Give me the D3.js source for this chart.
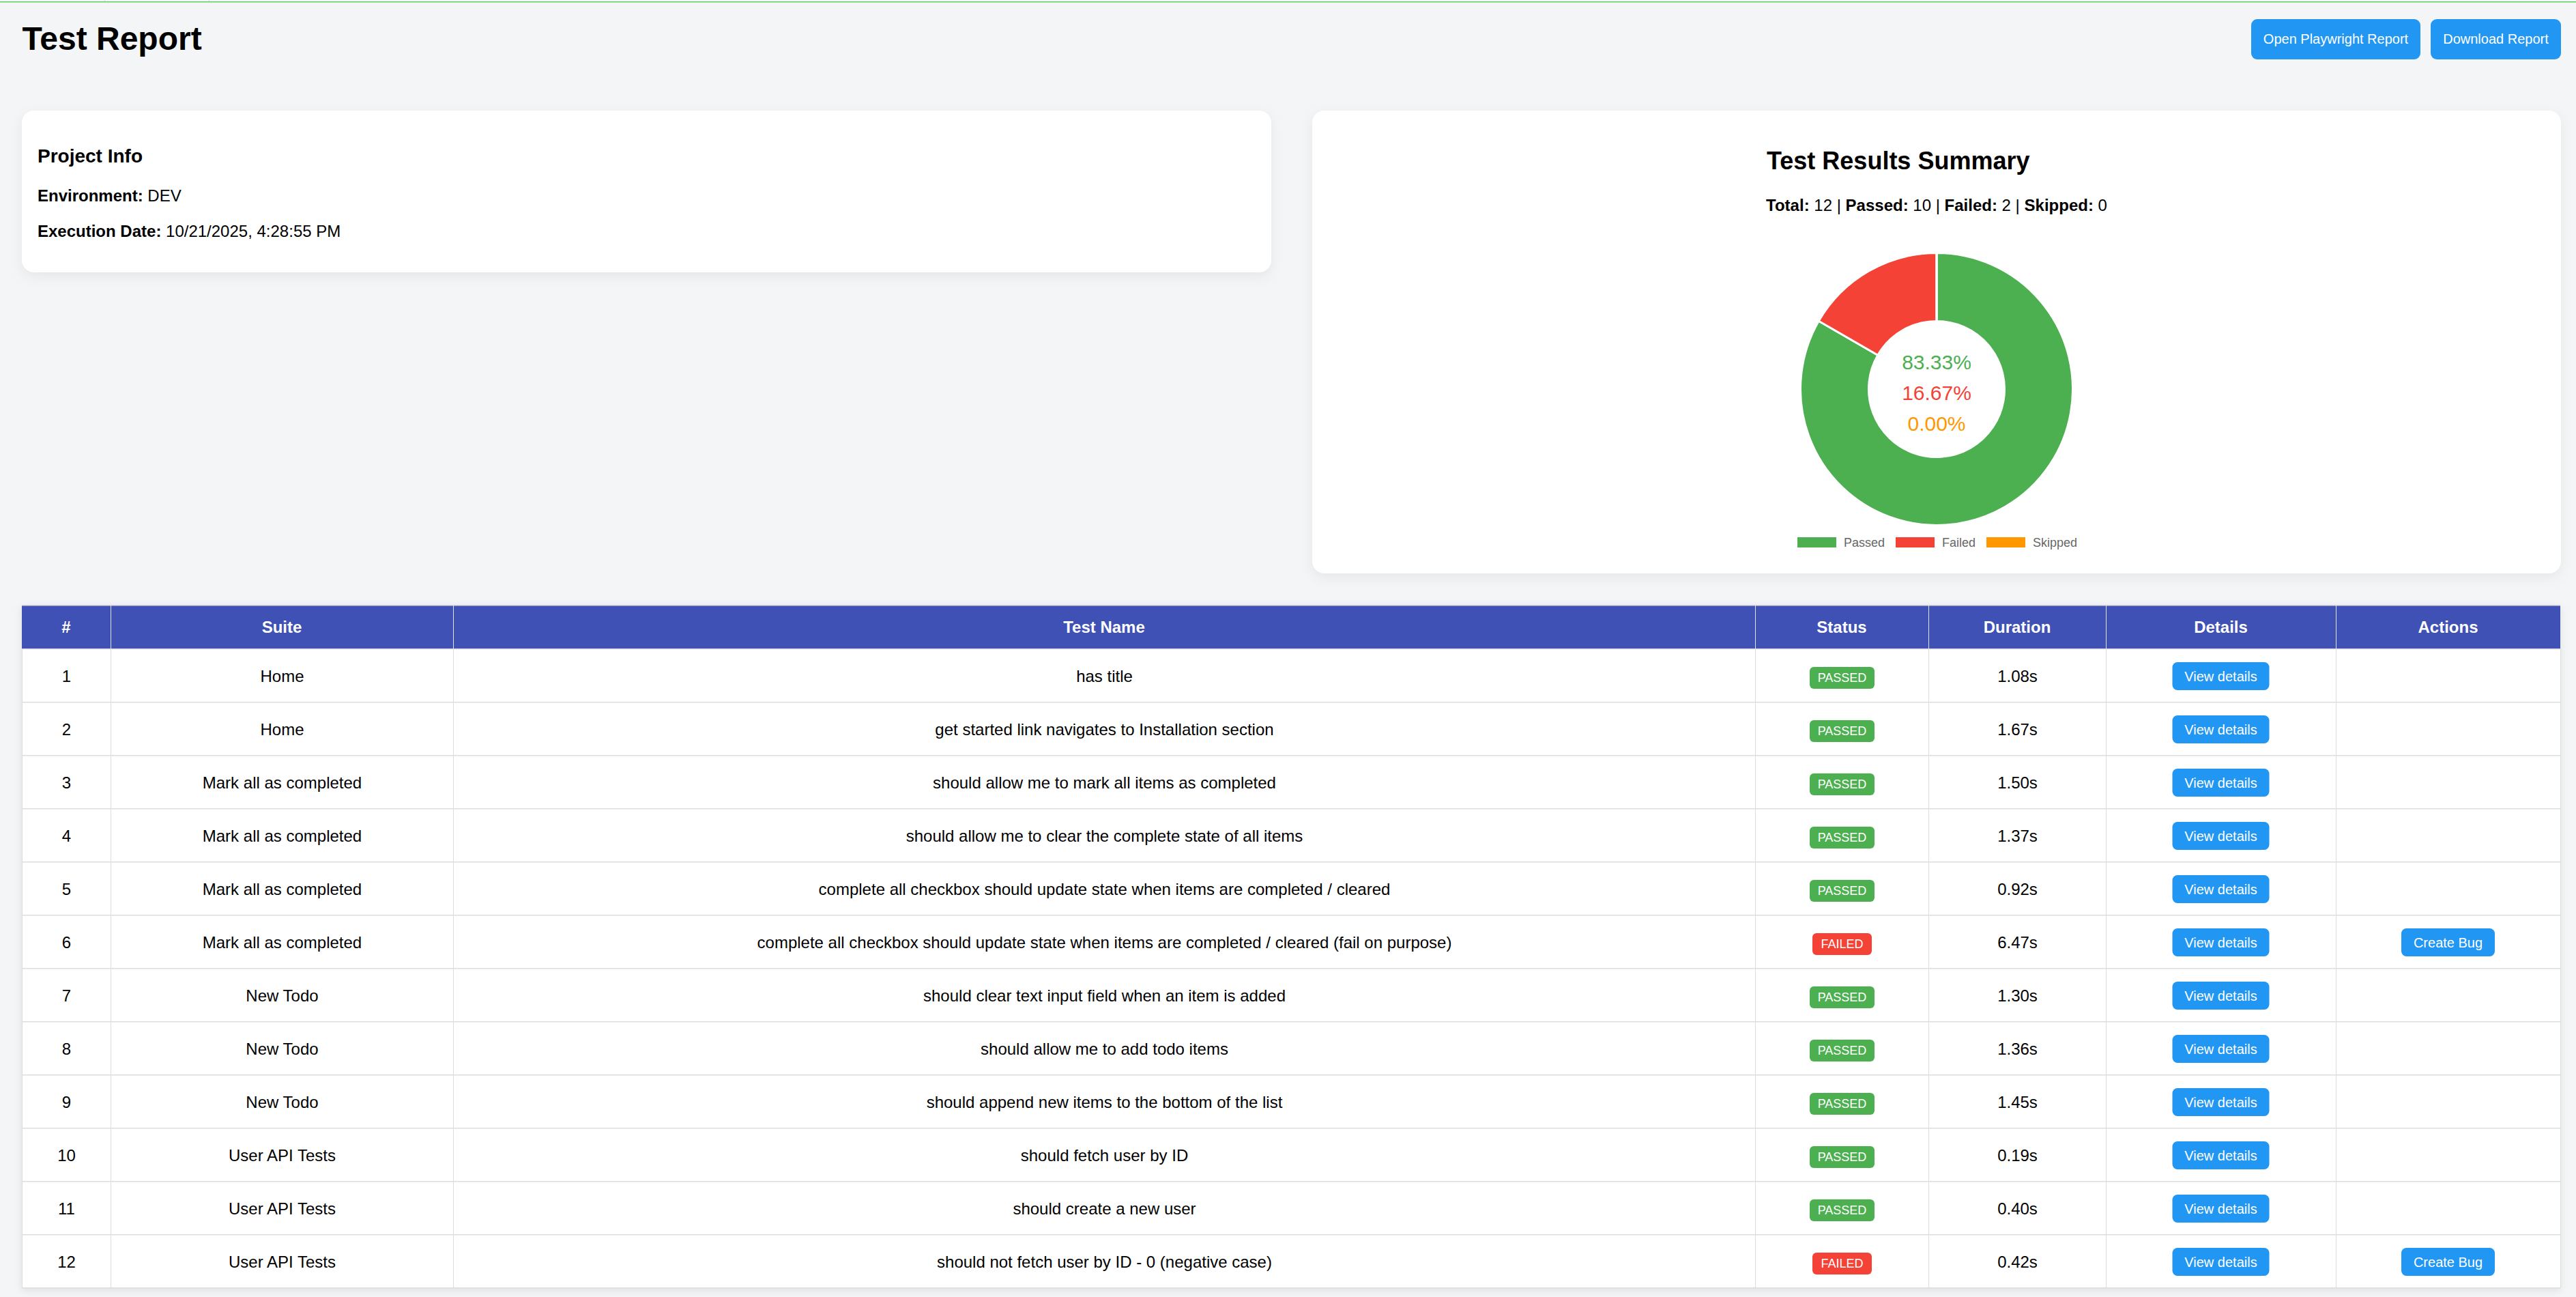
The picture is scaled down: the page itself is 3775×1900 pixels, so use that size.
<!DOCTYPE html>
<html lang="en">
<head>
<meta charset="utf-8">
<title>Test Report</title>
<script src="https://cdn.jsdelivr.net/npm/d3@7/dist/d3.min.js"></script>
<style>
html,body{margin:0;padding:0;background:#f4f5f7;overflow:hidden;}
svg{display:block;font-family:"Liberation Sans",Arial,sans-serif;}
</style>
</head>
<body>
<svg id="page" width="3775" height="1900"></svg>
<script>
const reportTitle = "Test Report";
const headerButtons = ["Open Playwright Report", "Download Report"];
const infoLabels = ["Environment:", "Execution Date:"];
const infoValues = ["DEV", "10/21/2025, 4:28:55 PM"];

const resultLabels = ["Passed", "Failed", "Skipped"];
const resultCounts = [10, 2, 0];
const resultColors = ["#4caf50", "#f44336", "#ff9800"];

const columns = ["#", "Suite", "Test Name", "Status", "Duration", "Details", "Actions"];
const suites = ["Home","Home","Mark all as completed","Mark all as completed","Mark all as completed","Mark all as completed","New Todo","New Todo","New Todo","User API Tests","User API Tests","User API Tests"];
const testNames = [
  "has title",
  "get started link navigates to Installation section",
  "should allow me to mark all items as completed",
  "should allow me to clear the complete state of all items",
  "complete all checkbox should update state when items are completed / cleared",
  "complete all checkbox should update state when items are completed / cleared (fail on purpose)",
  "should clear text input field when an item is added",
  "should allow me to add todo items",
  "should append new items to the bottom of the list",
  "should fetch user by ID",
  "should create a new user",
  "should not fetch user by ID - 0 (negative case)"
];
const statuses = ["PASSED","PASSED","PASSED","PASSED","PASSED","FAILED","PASSED","PASSED","PASSED","PASSED","PASSED","FAILED"];
const durations = [1.08,1.67,1.50,1.37,0.92,6.47,1.30,1.36,1.45,0.19,0.40,0.42];

// layout
const columnEdges = [32,162,664,2572,2826,3086,3423,3752];
const tableTop = 887, headerBottom = 951, tableBottom = 1887;
const svg = d3.select("#page");
const total = d3.sum(resultCounts);

svg.append("rect").attr("x",0).attr("y",2).attr("width",3775).attr("height",1.5).attr("fill","#5fd068");
[153,306].forEach(x=>svg.append("rect").attr("x",x).attr("y",0).attr("width",1).attr("height",2).attr("fill","#c9e8cc"));

function rich(parent,x,y,size,anchor,parts){
  const t=parent.append("text").attr("x",x).attr("y",y).attr("font-size",size).attr("text-anchor",anchor).attr("fill","#000");
  parts.forEach(p=>t.append("tspan").attr("font-weight",p[1]?"bold":"normal").text(p[0]));
  return t;
}
function button(parent,x0,y0,w,h,r,label,size,base,fill){
  parent.append("rect").attr("x",x0).attr("y",y0).attr("width",w).attr("height",h).attr("rx",r).attr("fill",fill);
  parent.append("text").attr("x",x0+w/2).attr("y",base).attr("text-anchor","middle").attr("font-size",size).attr("fill","#fff").text(label);
}

rich(svg,32.5,73,48,"start",[[reportTitle,true]]);
button(svg,3299,28,248,59,9,headerButtons[0],20,64,"#2196f3");
button(svg,3562,28,191,59,9,headerButtons[1],20,64,"#2196f3");

// cards
const shadow="drop-shadow(0px 6px 9px rgba(0,0,0,0.06))";
[[32,162,1831,237],[1923,162,1830,678]].forEach(c=>svg.append("rect").attr("x",c[0]).attr("y",c[1]).attr("width",c[2]).attr("height",c[3]).attr("rx",18).attr("fill","#fff").style("filter",shadow));

rich(svg,55,238,28,"start",[["Project Info",true]]);
infoLabels.forEach((l,i)=>rich(svg,55,[295,347][i],24,"start",[[l+" ",true],[infoValues[i],false]]));

// summary
rich(svg,2589,248,36,"start",[["Test Results Summary",true]]);
const summaryParts=[["Total: ",true],[String(total),false]];
resultLabels.forEach((l,i)=>{summaryParts.push([" | ",false],[l+": ",true],[String(resultCounts[i]),false]);});
rich(svg,2838,309,24,"middle",summaryParts);

// donut
const cx=2838, cy=570;
const color=d3.scaleOrdinal(resultLabels,resultColors);
const pie=d3.pie().sort(null).value(d=>d.count);
const arc=d3.arc().innerRadius(99.5).outerRadius(199.5);
const donut=svg.append("g").attr("transform",`translate(${cx},${cy})`);
const resultRows=resultLabels.map((label,i)=>({label,count:resultCounts[i]}));
donut.selectAll("path").data(pie(resultRows)).join("path")
  .attr("d",arc).attr("fill",d=>color(d.data.label)).attr("stroke","#fff").attr("stroke-width",3);
const pct=d3.format(".2f");
donut.selectAll("text").data(resultRows).join("text")
  .attr("text-anchor","middle").attr("font-size",30).attr("y",(d,i)=>-29+45*i)
  .attr("fill",d=>color(d.label)).text(d=>pct(d.count/total*100)+"%");

// legend
const legendBoxes=[2634,2778,2911];
resultLabels.forEach((l,i)=>{
  svg.append("rect").attr("x",legendBoxes[i]).attr("y",787).attr("width",57).attr("height",15).attr("fill",color(l));
  svg.append("text").attr("x",legendBoxes[i]+68).attr("y",801).attr("font-size",18).attr("fill","#666").text(l);
});

// table
const rowIds=d3.range(suites.length);
const y=d3.scaleBand().domain(rowIds).range([headerBottom,tableBottom]);
const cols=columns.map((c,i)=>({name:c,x0:columnEdges[i],x1:columnEdges[i+1],cx:(columnEdges[i]+columnEdges[i+1])/2}));
const tableW=columnEdges[7]-columnEdges[0];
svg.append("rect").attr("x",columnEdges[0]).attr("y",tableTop).attr("width",tableW).attr("height",tableBottom-tableTop)
  .attr("fill","#fff").style("filter","drop-shadow(0px 3px 6px rgba(0,0,0,0.09))");
svg.append("rect").attr("x",columnEdges[0]).attr("y",tableTop).attr("width",tableW).attr("height",headerBottom-tableTop).attr("fill","#3f51b5");
svg.append("rect").attr("x",columnEdges[0]).attr("y",tableTop-1).attr("width",tableW).attr("height",1.5).attr("fill","#dddddd");

const lines=svg.append("g");
rowIds.forEach(i=>lines.append("rect").attr("x",columnEdges[0]).attr("y",y(i)+y.bandwidth()-1).attr("width",tableW).attr("height",1.5).attr("fill","#dddddd"));
columnEdges.forEach((x,i)=>{
  lines.append("rect").attr("x",x).attr("y",headerBottom).attr("width",1).attr("height",tableBottom-headerBottom).attr("fill","#dddddd");
  if(i>0&&i<7) lines.append("rect").attr("x",x).attr("y",tableTop).attr("width",1).attr("height",headerBottom-tableTop).attr("fill","#dfe2f2");
});
svg.append("rect").attr("x",columnEdges[0]).attr("y",headerBottom-1).attr("width",tableW).attr("height",1.5).attr("fill","#dddddd");

svg.append("g").selectAll("text").data(cols).join("text")
  .attr("x",d=>d.cx).attr("y",927).attr("text-anchor","middle").attr("font-size",24).attr("font-weight","bold").attr("fill","#fff").text(d=>d.name);

const body=svg.append("g");
const fmtDur=d3.format(".2f");
rowIds.forEach(i=>{
  const top=y(i), base=top+47.5;
  [String(i+1),suites[i],testNames[i],null,fmtDur(durations[i])+"s"].forEach((txt,c)=>{
    if(txt===null) return;
    body.append("text").attr("x",cols[c].cx+0.5).attr("y",base).attr("text-anchor","middle").attr("font-size",24).attr("fill","#000").text(txt);
  });
  const w=statuses[i]==="PASSED"?95:87;
  const bx=cols[3].cx-w/2+0.5;
  body.append("rect").attr("x",bx).attr("y",top+26).attr("width",w).attr("height",32).attr("rx",6).attr("fill",statuses[i]==="PASSED"?color("Passed"):color("Failed"));
  body.append("text").attr("x",cols[3].cx+0.5).attr("y",top+48).attr("text-anchor","middle").attr("font-size",18).attr("fill","#fff").text(statuses[i]);
  button(body,cols[5].cx-71,top+19,142,41,7.5,"View details",20,top+46.5,"#2196f3");
  if(statuses[i]==="FAILED") button(body,cols[6].cx-68.5,top+19,137,41,7.5,"Create Bug",20,top+46.5,"#2196f3");
});
</script>
</body>
</html>
